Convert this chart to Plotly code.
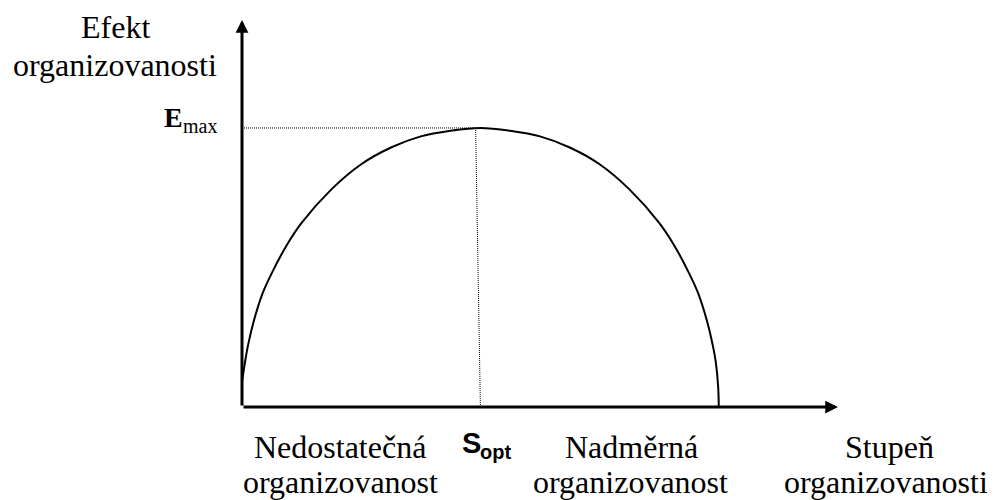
import plotly.graph_objects as go

# Curve (x = stupeň organizovanosti, y = efekt)
stupen = [0, 0.05, 0.1, 0.2, 0.35, 0.5, 0.75, 1, 1.5, 2, 2.5, 3, 3.5, 4,
          4.5, 5, 5.5, 6, 6.5, 7, 7.25, 7.5, 7.65, 7.8, 7.9, 7.95, 7.99, 8]
efekt = [0.9, 1.6, 2.2, 3.1, 4.1, 4.8, 5.8, 6.6, 7.8, 8.7, 9.3, 9.7, 9.9, 10,
         9.9, 9.7, 9.3, 8.7, 7.8, 6.6, 5.8, 4.8, 4.1, 3.1, 2.2, 1.6, 0.7, 0]

s_opt_top = 3.92
s_opt_bottom = 4.0
e_max = 10
x_end = 10
y_end = 13.87

SERIF = "Liberation Serif"
SANS = "Liberation Sans"

# page offset (body margin) and figure margins
OFF = 8
W, H = 995, 500
ml, mr, mt, mb = 242 - OFF, 995 - (838 - OFF), 20 - OFF, 500 - (407 - OFF)
pw, ph = W - ml - mr, H - mt - mb


def px(x):
    return (x - OFF - ml) / pw


def py(y):
    return (H - mb - (y - OFF)) / ph


fig = go.Figure()

dot = dict(color="black", width=1, dash="1px,1px")
fig.add_trace(go.Scatter(x=[0, s_opt_top], y=[e_max, e_max], mode="lines",
                         line=dot, hoverinfo="skip", showlegend=False))
fig.add_trace(go.Scatter(x=[s_opt_top, s_opt_bottom], y=[e_max, 0], mode="lines",
                         line=dot, hoverinfo="skip", showlegend=False))
fig.add_trace(go.Scatter(x=stupen, y=efekt, mode="lines",
                         line=dict(color="black", width=2, shape="spline", smoothing=0.8),
                         hoverinfo="skip", showlegend=False, cliponaxis=False))

ann = []
ann.append(dict(x=x_end, y=0, ax=0, ay=0, xref="x", yref="y", axref="x", ayref="y",
                text="", showarrow=True, arrowhead=2, arrowwidth=3, arrowsize=0.85,
                arrowcolor="black"))
ann.append(dict(x=0, y=y_end, ax=0, ay=0, xref="x", yref="y", axref="x", ayref="y",
                text="", showarrow=True, arrowhead=2, arrowwidth=3, arrowsize=0.85,
                arrowcolor="black"))

FS = 32


def text(t, cx, base, size=FS, family=SERIF, anchor="center"):
    ann.append(dict(x=px(cx), y=py(base - 0.32 * size), xref="paper", yref="paper",
                    text=t, showarrow=False, xanchor=anchor, yanchor="middle",
                    borderpad=0,
                    font=dict(family=family, size=size, color="black")))


# y axis title
text("Efekt", 115, 37)
text("organizovanosti", 115.5, 75)

# bottom labels
text("Nedostatečná", 339.5, 457)
text("organizovanost", 340, 492)
text("Nadměrná", 631.5, 457)
text("organizovanost", 630.5, 492)
text("Stupeň", 889, 457)
text("organizovanosti", 886, 492)

# E_max
text("<b>E</b>", 163, 126, size=28, anchor="left")
text("max", 182, 132, size=20, anchor="left")

# S_opt
text("<b>S</b>", 461, 452, size=29, family=SANS, anchor="left")
text("<b>opt</b>", 479, 458, size=20, family=SANS, anchor="left")

fig.update_layout(
    width=W, height=H,
    margin=dict(l=ml, r=mr, t=mt, b=mb),
    paper_bgcolor="white", plot_bgcolor="white",
    font=dict(family=SERIF),
    xaxis=dict(range=[0, x_end], visible=False, fixedrange=True),
    yaxis=dict(range=[0, y_end], visible=False, fixedrange=True),
    annotations=ann,
    showlegend=False,
)

fig.write_html("out.html", config={"displayModeBar": False})
